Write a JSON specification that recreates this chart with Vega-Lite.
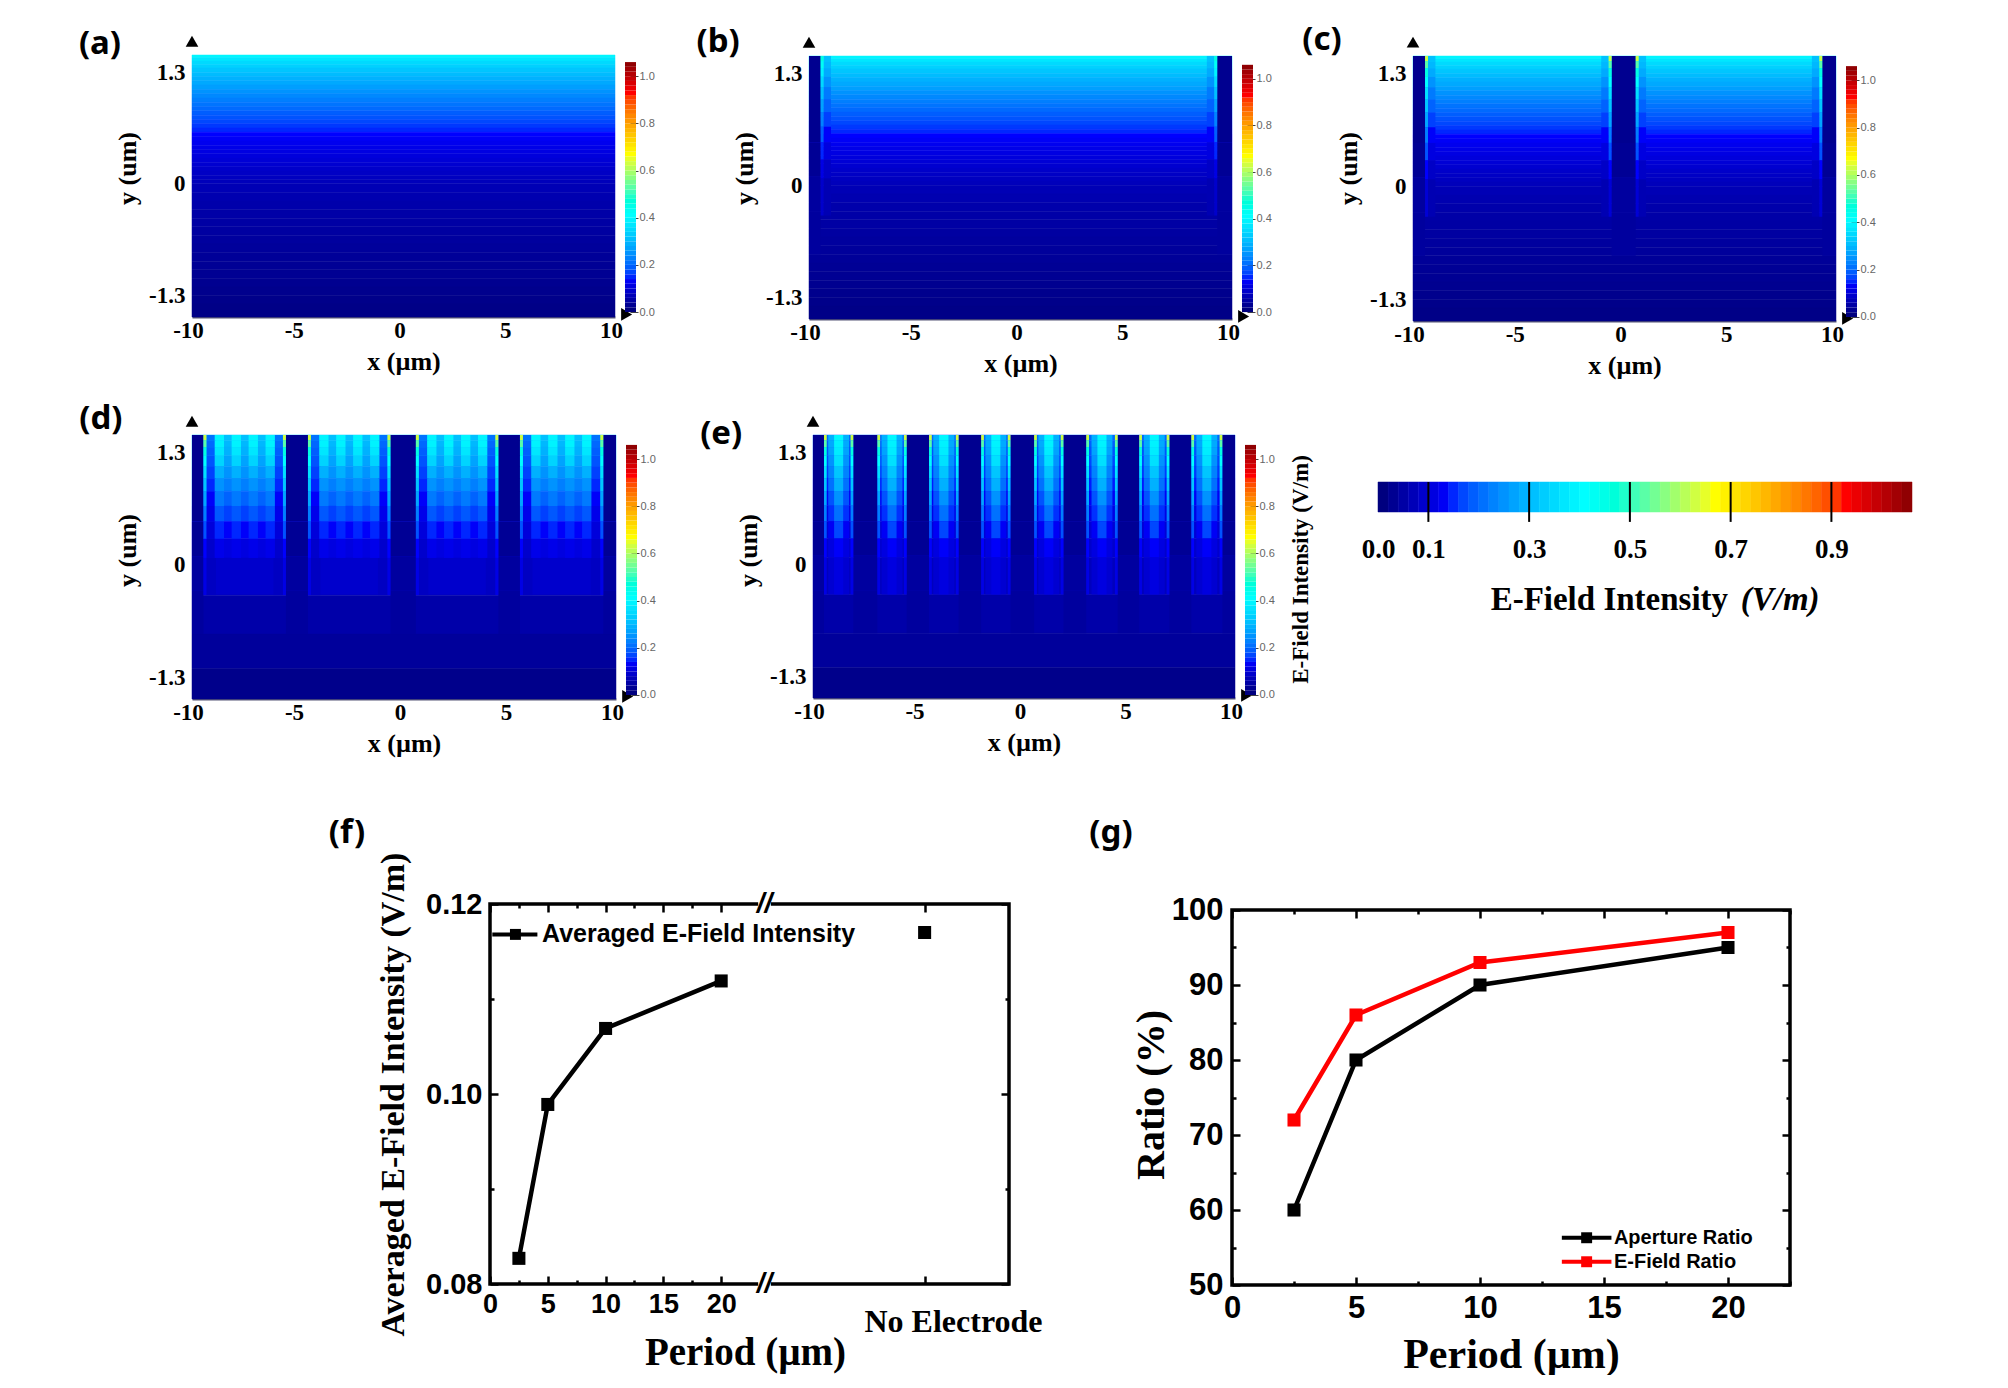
{"$schema":"https://vega.github.io/schema/vega-lite/v6.json",
"padding":{"left":78,"top":23,"right":0,"bottom":0},
"background":"white",
"config":{"view":{"stroke":null},"axis":{"grid":false,"labelFlush":false,"labelFont":"Liberation Serif","labelFontWeight":"bold","labelFontSize":23,"labelColor":"black","titleFont":"Liberation Serif","titleFontWeight":"bold","titleFontSize":26,"titleColor":"black"}},
"datasets":{
"base":[{"y":1.5,"y2":1.47,"v":0.385},{"y":1.47,"y2":1.43,"v":0.36},{"y":1.43,"y2":1.39,"v":0.34},{"y":1.39,"y2":1.35,"v":0.325},{"y":1.35,"y2":1.3,"v":0.31},{"y":1.3,"y2":1.25,"v":0.295},{"y":1.25,"y2":1.2,"v":0.28},{"y":1.2,"y2":1.15,"v":0.268},{"y":1.15,"y2":1.1,"v":0.255},{"y":1.1,"y2":1.05,"v":0.24},{"y":1.05,"y2":1,"v":0.228},{"y":1,"y2":0.95,"v":0.215},{"y":0.95,"y2":0.9,"v":0.203},{"y":0.9,"y2":0.85,"v":0.192},{"y":0.85,"y2":0.8,"v":0.18},{"y":0.8,"y2":0.75,"v":0.17},{"y":0.75,"y2":0.7,"v":0.16},{"y":0.7,"y2":0.65,"v":0.15},{"y":0.65,"y2":0.6,"v":0.14},{"y":0.6,"y2":0.55,"v":0.13},{"y":0.55,"y2":0.5,"v":0.122},{"y":0.5,"y2":0.45,"v":0.115},{"y":0.45,"y2":0.4,"v":0.108},{"y":0.4,"y2":0.35,"v":0.102},{"y":0.35,"y2":0.3,"v":0.096},{"y":0.3,"y2":0.25,"v":0.09},{"y":0.25,"y2":0.2,"v":0.084},{"y":0.2,"y2":0.15,"v":0.078},{"y":0.15,"y2":0.1,"v":0.073},{"y":0.1,"y2":0.05,"v":0.068},{"y":0.05,"y2":0,"v":0.063},{"y":0,"y2":-0.1,"v":0.057},{"y":-0.1,"y2":-0.2,"v":0.052},{"y":-0.2,"y2":-0.3,"v":0.047},{"y":-0.3,"y2":-0.4,"v":0.043},{"y":-0.4,"y2":-0.5,"v":0.039},{"y":-0.5,"y2":-0.6,"v":0.036},{"y":-0.6,"y2":-0.7,"v":0.033},{"y":-0.7,"y2":-0.8,"v":0.03},{"y":-0.8,"y2":-0.9,"v":0.027},{"y":-0.9,"y2":-1,"v":0.024},{"y":-1,"y2":-1.1,"v":0.021},{"y":-1.1,"y2":-1.2,"v":0.018},{"y":-1.2,"y2":-1.3,"v":0.015},{"y":-1.3,"y2":-1.4,"v":0.012},{"y":-1.4,"y2":-1.55,"v":0.009}],
"baseD":[{"y":1.5,"y2":1.44,"v":0.3},{"y":1.44,"y2":1.36,"v":0.29},{"y":1.36,"y2":1.26,"v":0.28},{"y":1.26,"y2":1.14,"v":0.26},{"y":1.14,"y2":1,"v":0.24},{"y":1,"y2":0.85,"v":0.215},{"y":0.85,"y2":0.68,"v":0.185},{"y":0.68,"y2":0.5,"v":0.155},{"y":0.5,"y2":0.3,"v":0.125},{"y":0.3,"y2":0.08,"v":0.1},{"y":0.08,"y2":-0.35,"v":0.08},{"y":-0.35,"y2":-0.8,"v":0.045},{"y":-0.8,"y2":-1.2,"v":0.03},{"y":-1.2,"y2":-1.55,"v":0.013}],
"baseE":[{"y":1.5,"y2":1.44,"v":0.19},{"y":1.44,"y2":1.36,"v":0.18},{"y":1.36,"y2":1.26,"v":0.17},{"y":1.26,"y2":1.14,"v":0.16},{"y":1.14,"y2":1,"v":0.15},{"y":1,"y2":0.85,"v":0.135},{"y":0.85,"y2":0.68,"v":0.12},{"y":0.68,"y2":0.5,"v":0.105},{"y":0.5,"y2":0.3,"v":0.09},{"y":0.3,"y2":0.08,"v":0.08},{"y":0.08,"y2":-0.35,"v":0.065},{"y":-0.35,"y2":-0.8,"v":0.045},{"y":-0.8,"y2":-1.2,"v":0.03},{"y":-1.2,"y2":-1.55,"v":0.013}],
"bands":[{"b":1,"y":1.5,"y2":1.44},{"b":2,"y":1.44,"y2":1.36},{"b":3,"y":1.36,"y2":1.26},{"b":4,"y":1.26,"y2":1.14},{"b":5,"y":1.14,"y2":1},{"b":6,"y":1,"y2":0.85},{"b":7,"y":0.85,"y2":0.68},{"b":8,"y":0.68,"y2":0.5},{"b":9,"y":0.5,"y2":0.3},{"b":10,"y":0.3,"y2":0.08},{"b":11,"y":0.08,"y2":-0.35},{"b":21,"y":1.5,"y2":0.5},{"b":22,"y":0.5,"y2":0.1},{"b":23,"y":0.1,"y2":-0.3},{"b":24,"y":-0.3,"y2":-0.8}],
"bar":[{"v":0,"v2":0.02},{"v":0.02,"v2":0.04},{"v":0.04,"v2":0.06},{"v":0.06,"v2":0.08},{"v":0.08,"v2":0.1},{"v":0.1,"v2":0.12},{"v":0.12,"v2":0.14},{"v":0.14,"v2":0.16},{"v":0.16,"v2":0.18},{"v":0.18,"v2":0.2},{"v":0.2,"v2":0.22},{"v":0.22,"v2":0.24},{"v":0.24,"v2":0.26},{"v":0.26,"v2":0.28},{"v":0.28,"v2":0.3},{"v":0.3,"v2":0.32},{"v":0.32,"v2":0.34},{"v":0.34,"v2":0.36},{"v":0.36,"v2":0.38},{"v":0.38,"v2":0.4},{"v":0.4,"v2":0.42},{"v":0.42,"v2":0.44},{"v":0.44,"v2":0.46},{"v":0.46,"v2":0.48},{"v":0.48,"v2":0.5},{"v":0.5,"v2":0.52},{"v":0.52,"v2":0.54},{"v":0.54,"v2":0.56},{"v":0.56,"v2":0.58},{"v":0.58,"v2":0.6},{"v":0.6,"v2":0.62},{"v":0.62,"v2":0.64},{"v":0.64,"v2":0.66},{"v":0.66,"v2":0.68},{"v":0.68,"v2":0.7},{"v":0.7,"v2":0.72},{"v":0.72,"v2":0.74},{"v":0.74,"v2":0.76},{"v":0.76,"v2":0.78},{"v":0.78,"v2":0.8},{"v":0.8,"v2":0.82},{"v":0.82,"v2":0.84},{"v":0.84,"v2":0.86},{"v":0.86,"v2":0.88},{"v":0.88,"v2":0.9},{"v":0.9,"v2":0.92},{"v":0.92,"v2":0.94},{"v":0.94,"v2":0.96},{"v":0.96,"v2":0.98},{"v":0.98,"v2":1},{"v":1,"v2":1.02},{"v":1.02,"v2":1.04},{"v":1.04,"v2":1.06}],
"arrows":[{"x":-10,"y":1.66,"s":"triangle-up"},{"x":10.55,"y":-1.52,"s":"triangle-right"}],
"colsB":[{"c":1,"x":-10,"x2":-9.45},{"c":2,"x":9.3,"x2":10},{"c":3,"x":-9.31,"x2":-8.96},{"c":4,"x":8.81,"x2":9.16},{"c":5,"x":-9.45,"x2":-9.31},{"c":6,"x":9.16,"x2":9.3}],
"cellsB":[{"c":1,"b":21,"v":0.018},{"c":1,"b":22,"v":0.024},{"c":1,"b":23,"v":0.034},{"c":1,"b":24,"v":0.033},{"c":2,"b":21,"v":0.018},{"c":2,"b":22,"v":0.024},{"c":2,"b":23,"v":0.034},{"c":2,"b":24,"v":0.033},
{"c":3,"b":1,"v":0.3},{"c":3,"b":2,"v":0.29},{"c":3,"b":3,"v":0.27},{"c":3,"b":4,"v":0.24},{"c":3,"b":5,"v":0.21},{"c":3,"b":6,"v":0.185},{"c":3,"b":7,"v":0.155},{"c":3,"b":8,"v":0.125},{"c":3,"b":9,"v":0.1},{"c":3,"b":10,"v":0.075},{"c":3,"b":11,"v":0.055},
{"c":4,"b":1,"v":0.3},{"c":4,"b":2,"v":0.29},{"c":4,"b":3,"v":0.27},{"c":4,"b":4,"v":0.24},{"c":4,"b":5,"v":0.21},{"c":4,"b":6,"v":0.185},{"c":4,"b":7,"v":0.155},{"c":4,"b":8,"v":0.125},{"c":4,"b":9,"v":0.1},{"c":4,"b":10,"v":0.075},{"c":4,"b":11,"v":0.055},
{"c":5,"b":1,"v":0.45},{"c":5,"b":2,"v":0.42},{"c":5,"b":3,"v":0.38},{"c":5,"b":4,"v":0.34},{"c":5,"b":5,"v":0.3},{"c":5,"b":6,"v":0.26},{"c":5,"b":7,"v":0.22},{"c":5,"b":8,"v":0.18},{"c":5,"b":9,"v":0.14},{"c":5,"b":10,"v":0.105},{"c":5,"b":11,"v":0.08},
{"c":6,"b":1,"v":0.45},{"c":6,"b":2,"v":0.42},{"c":6,"b":3,"v":0.38},{"c":6,"b":4,"v":0.34},{"c":6,"b":5,"v":0.3},{"c":6,"b":6,"v":0.26},{"c":6,"b":7,"v":0.22},{"c":6,"b":8,"v":0.18},{"c":6,"b":9,"v":0.14},{"c":6,"b":10,"v":0.105},{"c":6,"b":11,"v":0.08}],
"colsC":[{"c":1,"x":-10,"x2":-9.43},{"c":2,"x":-0.61,"x2":0.53},{"c":3,"x":9.35,"x2":10},{"c":4,"x":-9.29,"x2":-8.94},{"c":5,"x":-1.1,"x2":-0.75},{"c":6,"x":0.67,"x2":1.02},{"c":7,"x":8.86,"x2":9.21},{"c":8,"x":-9.43,"x2":-9.29},{"c":9,"x":-0.75,"x2":-0.61},{"c":10,"x":0.53,"x2":0.67},{"c":11,"x":9.21,"x2":9.35}],
"cellsC":[{"c":1,"b":21,"v":0.018},{"c":1,"b":22,"v":0.024},{"c":1,"b":23,"v":0.034},{"c":1,"b":24,"v":0.033},{"c":2,"b":21,"v":0.018},{"c":2,"b":22,"v":0.024},{"c":2,"b":23,"v":0.034},{"c":2,"b":24,"v":0.033},{"c":3,"b":21,"v":0.018},{"c":3,"b":22,"v":0.024},{"c":3,"b":23,"v":0.034},{"c":3,"b":24,"v":0.033},
{"c":4,"b":1,"v":0.3},{"c":4,"b":2,"v":0.29},{"c":4,"b":3,"v":0.27},{"c":4,"b":4,"v":0.24},{"c":4,"b":5,"v":0.21},{"c":4,"b":6,"v":0.185},{"c":4,"b":7,"v":0.155},{"c":4,"b":8,"v":0.125},{"c":4,"b":9,"v":0.1},{"c":4,"b":10,"v":0.075},{"c":4,"b":11,"v":0.055},
{"c":5,"b":1,"v":0.3},{"c":5,"b":2,"v":0.29},{"c":5,"b":3,"v":0.27},{"c":5,"b":4,"v":0.24},{"c":5,"b":5,"v":0.21},{"c":5,"b":6,"v":0.185},{"c":5,"b":7,"v":0.155},{"c":5,"b":8,"v":0.125},{"c":5,"b":9,"v":0.1},{"c":5,"b":10,"v":0.075},{"c":5,"b":11,"v":0.055},
{"c":6,"b":1,"v":0.3},{"c":6,"b":2,"v":0.29},{"c":6,"b":3,"v":0.27},{"c":6,"b":4,"v":0.24},{"c":6,"b":5,"v":0.21},{"c":6,"b":6,"v":0.185},{"c":6,"b":7,"v":0.155},{"c":6,"b":8,"v":0.125},{"c":6,"b":9,"v":0.1},{"c":6,"b":10,"v":0.075},{"c":6,"b":11,"v":0.055},
{"c":7,"b":1,"v":0.3},{"c":7,"b":2,"v":0.29},{"c":7,"b":3,"v":0.27},{"c":7,"b":4,"v":0.24},{"c":7,"b":5,"v":0.21},{"c":7,"b":6,"v":0.185},{"c":7,"b":7,"v":0.155},{"c":7,"b":8,"v":0.125},{"c":7,"b":9,"v":0.1},{"c":7,"b":10,"v":0.075},{"c":7,"b":11,"v":0.055},
{"c":8,"b":1,"v":0.62},{"c":8,"b":2,"v":0.52},{"c":8,"b":3,"v":0.45},{"c":8,"b":4,"v":0.4},{"c":8,"b":5,"v":0.35},{"c":8,"b":6,"v":0.31},{"c":8,"b":7,"v":0.265},{"c":8,"b":8,"v":0.215},{"c":8,"b":9,"v":0.17},{"c":8,"b":10,"v":0.13},{"c":8,"b":11,"v":0.09},
{"c":9,"b":1,"v":0.62},{"c":9,"b":2,"v":0.52},{"c":9,"b":3,"v":0.45},{"c":9,"b":4,"v":0.4},{"c":9,"b":5,"v":0.35},{"c":9,"b":6,"v":0.31},{"c":9,"b":7,"v":0.265},{"c":9,"b":8,"v":0.215},{"c":9,"b":9,"v":0.17},{"c":9,"b":10,"v":0.13},{"c":9,"b":11,"v":0.09},
{"c":10,"b":1,"v":0.62},{"c":10,"b":2,"v":0.52},{"c":10,"b":3,"v":0.45},{"c":10,"b":4,"v":0.4},{"c":10,"b":5,"v":0.35},{"c":10,"b":6,"v":0.31},{"c":10,"b":7,"v":0.265},{"c":10,"b":8,"v":0.215},{"c":10,"b":9,"v":0.17},{"c":10,"b":10,"v":0.13},{"c":10,"b":11,"v":0.09},
{"c":11,"b":1,"v":0.62},{"c":11,"b":2,"v":0.52},{"c":11,"b":3,"v":0.45},{"c":11,"b":4,"v":0.4},{"c":11,"b":5,"v":0.35},{"c":11,"b":6,"v":0.31},{"c":11,"b":7,"v":0.265},{"c":11,"b":8,"v":0.215},{"c":11,"b":9,"v":0.17},{"c":11,"b":10,"v":0.13},{"c":11,"b":11,"v":0.09}],
"colsD":[{"c":1,"x":-10,"x2":-9.46},{"c":2,"x":-5.57,"x2":-4.53},{"c":3,"x":-0.64,"x2":0.56},{"c":4,"x":4.45,"x2":5.47},{"c":5,"x":9.4,"x2":10},{"c":6,"x":-9.32,"x2":-8.87},{"c":7,"x":-6.16,"x2":-5.71},{"c":8,"x":-4.39,"x2":-3.94},{"c":9,"x":-1.23,"x2":-0.78},{"c":10,"x":0.7,"x2":1.15},{"c":11,"x":3.86,"x2":4.31},{"c":12,"x":5.61,"x2":6.06},{"c":13,"x":8.81,"x2":9.26},{"c":14,"x":-8.93,"x2":-8.49},{"c":15,"x":-8.13,"x2":-7.69},{"c":16,"x":-7.33,"x2":-6.89},{"c":17,"x":-6.53,"x2":-6.09},{"c":18,"x":-4,"x2":-3.56},{"c":19,"x":-3.2,"x2":-2.76},{"c":20,"x":-2.4,"x2":-1.96},{"c":21,"x":-1.6,"x2":-1.16},{"c":22,"x":1.09,"x2":1.53},{"c":23,"x":1.89,"x2":2.33},{"c":24,"x":2.69,"x2":3.13},{"c":25,"x":3.49,"x2":3.93},{"c":26,"x":6,"x2":6.44},{"c":27,"x":6.8,"x2":7.24},{"c":28,"x":7.6,"x2":8.04},{"c":29,"x":8.4,"x2":8.84},{"c":30,"x":-9.46,"x2":-9.32},{"c":31,"x":-5.71,"x2":-5.57},{"c":32,"x":-4.53,"x2":-4.39},{"c":33,"x":-0.78,"x2":-0.64},{"c":34,"x":0.56,"x2":0.7},{"c":35,"x":4.31,"x2":4.45},{"c":36,"x":5.47,"x2":5.61},{"c":37,"x":9.26,"x2":9.4}],
"cellsD":[{"c":1,"b":21,"v":0.018},{"c":1,"b":22,"v":0.024},{"c":1,"b":23,"v":0.034},{"c":1,"b":24,"v":0.033},{"c":2,"b":21,"v":0.018},{"c":2,"b":22,"v":0.024},{"c":2,"b":23,"v":0.034},{"c":2,"b":24,"v":0.033},{"c":3,"b":21,"v":0.018},{"c":3,"b":22,"v":0.024},{"c":3,"b":23,"v":0.034},{"c":3,"b":24,"v":0.033},{"c":4,"b":21,"v":0.018},{"c":4,"b":22,"v":0.024},{"c":4,"b":23,"v":0.034},{"c":4,"b":24,"v":0.033},{"c":5,"b":21,"v":0.018},{"c":5,"b":22,"v":0.024},{"c":5,"b":23,"v":0.034},{"c":5,"b":24,"v":0.033},
{"c":6,"b":1,"v":0.2},{"c":6,"b":2,"v":0.19},{"c":6,"b":3,"v":0.18},{"c":6,"b":4,"v":0.17},{"c":6,"b":5,"v":0.155},{"c":6,"b":6,"v":0.14},{"c":6,"b":7,"v":0.125},{"c":6,"b":8,"v":0.11},{"c":6,"b":9,"v":0.095},{"c":6,"b":10,"v":0.08},{"c":6,"b":11,"v":0.07},
{"c":7,"b":1,"v":0.2},{"c":7,"b":2,"v":0.19},{"c":7,"b":3,"v":0.18},{"c":7,"b":4,"v":0.17},{"c":7,"b":5,"v":0.155},{"c":7,"b":6,"v":0.14},{"c":7,"b":7,"v":0.125},{"c":7,"b":8,"v":0.11},{"c":7,"b":9,"v":0.095},{"c":7,"b":10,"v":0.08},{"c":7,"b":11,"v":0.07},
{"c":8,"b":1,"v":0.2},{"c":8,"b":2,"v":0.19},{"c":8,"b":3,"v":0.18},{"c":8,"b":4,"v":0.17},{"c":8,"b":5,"v":0.155},{"c":8,"b":6,"v":0.14},{"c":8,"b":7,"v":0.125},{"c":8,"b":8,"v":0.11},{"c":8,"b":9,"v":0.095},{"c":8,"b":10,"v":0.08},{"c":8,"b":11,"v":0.07},
{"c":9,"b":1,"v":0.2},{"c":9,"b":2,"v":0.19},{"c":9,"b":3,"v":0.18},{"c":9,"b":4,"v":0.17},{"c":9,"b":5,"v":0.155},{"c":9,"b":6,"v":0.14},{"c":9,"b":7,"v":0.125},{"c":9,"b":8,"v":0.11},{"c":9,"b":9,"v":0.095},{"c":9,"b":10,"v":0.08},{"c":9,"b":11,"v":0.07},
{"c":10,"b":1,"v":0.2},{"c":10,"b":2,"v":0.19},{"c":10,"b":3,"v":0.18},{"c":10,"b":4,"v":0.17},{"c":10,"b":5,"v":0.155},{"c":10,"b":6,"v":0.14},{"c":10,"b":7,"v":0.125},{"c":10,"b":8,"v":0.11},{"c":10,"b":9,"v":0.095},{"c":10,"b":10,"v":0.08},{"c":10,"b":11,"v":0.07},
{"c":11,"b":1,"v":0.2},{"c":11,"b":2,"v":0.19},{"c":11,"b":3,"v":0.18},{"c":11,"b":4,"v":0.17},{"c":11,"b":5,"v":0.155},{"c":11,"b":6,"v":0.14},{"c":11,"b":7,"v":0.125},{"c":11,"b":8,"v":0.11},{"c":11,"b":9,"v":0.095},{"c":11,"b":10,"v":0.08},{"c":11,"b":11,"v":0.07},
{"c":12,"b":1,"v":0.2},{"c":12,"b":2,"v":0.19},{"c":12,"b":3,"v":0.18},{"c":12,"b":4,"v":0.17},{"c":12,"b":5,"v":0.155},{"c":12,"b":6,"v":0.14},{"c":12,"b":7,"v":0.125},{"c":12,"b":8,"v":0.11},{"c":12,"b":9,"v":0.095},{"c":12,"b":10,"v":0.08},{"c":12,"b":11,"v":0.07},
{"c":13,"b":1,"v":0.2},{"c":13,"b":2,"v":0.19},{"c":13,"b":3,"v":0.18},{"c":13,"b":4,"v":0.17},{"c":13,"b":5,"v":0.155},{"c":13,"b":6,"v":0.14},{"c":13,"b":7,"v":0.125},{"c":13,"b":8,"v":0.11},{"c":13,"b":9,"v":0.095},{"c":13,"b":10,"v":0.08},{"c":13,"b":11,"v":0.07},
{"c":14,"b":1,"v":0.385},{"c":14,"b":2,"v":0.38},{"c":14,"b":3,"v":0.36},{"c":14,"b":4,"v":0.33},{"c":14,"b":5,"v":0.28},{"c":14,"b":6,"v":0.24},{"c":14,"b":7,"v":0.21},{"c":14,"b":8,"v":0.175},{"c":14,"b":9,"v":0.14},{"c":14,"b":10,"v":0.11},
{"c":15,"b":1,"v":0.385},{"c":15,"b":2,"v":0.38},{"c":15,"b":3,"v":0.36},{"c":15,"b":4,"v":0.33},{"c":15,"b":5,"v":0.28},{"c":15,"b":6,"v":0.24},{"c":15,"b":7,"v":0.21},{"c":15,"b":8,"v":0.175},{"c":15,"b":9,"v":0.14},{"c":15,"b":10,"v":0.11},
{"c":16,"b":1,"v":0.385},{"c":16,"b":2,"v":0.38},{"c":16,"b":3,"v":0.36},{"c":16,"b":4,"v":0.33},{"c":16,"b":5,"v":0.28},{"c":16,"b":6,"v":0.24},{"c":16,"b":7,"v":0.21},{"c":16,"b":8,"v":0.175},{"c":16,"b":9,"v":0.14},{"c":16,"b":10,"v":0.11},
{"c":17,"b":1,"v":0.385},{"c":17,"b":2,"v":0.38},{"c":17,"b":3,"v":0.36},{"c":17,"b":4,"v":0.33},{"c":17,"b":5,"v":0.28},{"c":17,"b":6,"v":0.24},{"c":17,"b":7,"v":0.21},{"c":17,"b":8,"v":0.175},{"c":17,"b":9,"v":0.14},{"c":17,"b":10,"v":0.11},
{"c":18,"b":1,"v":0.385},{"c":18,"b":2,"v":0.38},{"c":18,"b":3,"v":0.36},{"c":18,"b":4,"v":0.33},{"c":18,"b":5,"v":0.28},{"c":18,"b":6,"v":0.24},{"c":18,"b":7,"v":0.21},{"c":18,"b":8,"v":0.175},{"c":18,"b":9,"v":0.14},{"c":18,"b":10,"v":0.11},
{"c":19,"b":1,"v":0.385},{"c":19,"b":2,"v":0.38},{"c":19,"b":3,"v":0.36},{"c":19,"b":4,"v":0.33},{"c":19,"b":5,"v":0.28},{"c":19,"b":6,"v":0.24},{"c":19,"b":7,"v":0.21},{"c":19,"b":8,"v":0.175},{"c":19,"b":9,"v":0.14},{"c":19,"b":10,"v":0.11},
{"c":20,"b":1,"v":0.385},{"c":20,"b":2,"v":0.38},{"c":20,"b":3,"v":0.36},{"c":20,"b":4,"v":0.33},{"c":20,"b":5,"v":0.28},{"c":20,"b":6,"v":0.24},{"c":20,"b":7,"v":0.21},{"c":20,"b":8,"v":0.175},{"c":20,"b":9,"v":0.14},{"c":20,"b":10,"v":0.11},
{"c":21,"b":1,"v":0.385},{"c":21,"b":2,"v":0.38},{"c":21,"b":3,"v":0.36},{"c":21,"b":4,"v":0.33},{"c":21,"b":5,"v":0.28},{"c":21,"b":6,"v":0.24},{"c":21,"b":7,"v":0.21},{"c":21,"b":8,"v":0.175},{"c":21,"b":9,"v":0.14},{"c":21,"b":10,"v":0.11},
{"c":22,"b":1,"v":0.385},{"c":22,"b":2,"v":0.38},{"c":22,"b":3,"v":0.36},{"c":22,"b":4,"v":0.33},{"c":22,"b":5,"v":0.28},{"c":22,"b":6,"v":0.24},{"c":22,"b":7,"v":0.21},{"c":22,"b":8,"v":0.175},{"c":22,"b":9,"v":0.14},{"c":22,"b":10,"v":0.11},
{"c":23,"b":1,"v":0.385},{"c":23,"b":2,"v":0.38},{"c":23,"b":3,"v":0.36},{"c":23,"b":4,"v":0.33},{"c":23,"b":5,"v":0.28},{"c":23,"b":6,"v":0.24},{"c":23,"b":7,"v":0.21},{"c":23,"b":8,"v":0.175},{"c":23,"b":9,"v":0.14},{"c":23,"b":10,"v":0.11},
{"c":24,"b":1,"v":0.385},{"c":24,"b":2,"v":0.38},{"c":24,"b":3,"v":0.36},{"c":24,"b":4,"v":0.33},{"c":24,"b":5,"v":0.28},{"c":24,"b":6,"v":0.24},{"c":24,"b":7,"v":0.21},{"c":24,"b":8,"v":0.175},{"c":24,"b":9,"v":0.14},{"c":24,"b":10,"v":0.11},
{"c":25,"b":1,"v":0.385},{"c":25,"b":2,"v":0.38},{"c":25,"b":3,"v":0.36},{"c":25,"b":4,"v":0.33},{"c":25,"b":5,"v":0.28},{"c":25,"b":6,"v":0.24},{"c":25,"b":7,"v":0.21},{"c":25,"b":8,"v":0.175},{"c":25,"b":9,"v":0.14},{"c":25,"b":10,"v":0.11},
{"c":26,"b":1,"v":0.385},{"c":26,"b":2,"v":0.38},{"c":26,"b":3,"v":0.36},{"c":26,"b":4,"v":0.33},{"c":26,"b":5,"v":0.28},{"c":26,"b":6,"v":0.24},{"c":26,"b":7,"v":0.21},{"c":26,"b":8,"v":0.175},{"c":26,"b":9,"v":0.14},{"c":26,"b":10,"v":0.11},
{"c":27,"b":1,"v":0.385},{"c":27,"b":2,"v":0.38},{"c":27,"b":3,"v":0.36},{"c":27,"b":4,"v":0.33},{"c":27,"b":5,"v":0.28},{"c":27,"b":6,"v":0.24},{"c":27,"b":7,"v":0.21},{"c":27,"b":8,"v":0.175},{"c":27,"b":9,"v":0.14},{"c":27,"b":10,"v":0.11},
{"c":28,"b":1,"v":0.385},{"c":28,"b":2,"v":0.38},{"c":28,"b":3,"v":0.36},{"c":28,"b":4,"v":0.33},{"c":28,"b":5,"v":0.28},{"c":28,"b":6,"v":0.24},{"c":28,"b":7,"v":0.21},{"c":28,"b":8,"v":0.175},{"c":28,"b":9,"v":0.14},{"c":28,"b":10,"v":0.11},
{"c":29,"b":1,"v":0.385},{"c":29,"b":2,"v":0.38},{"c":29,"b":3,"v":0.36},{"c":29,"b":4,"v":0.33},{"c":29,"b":5,"v":0.28},{"c":29,"b":6,"v":0.24},{"c":29,"b":7,"v":0.21},{"c":29,"b":8,"v":0.175},{"c":29,"b":9,"v":0.14},{"c":29,"b":10,"v":0.11},
{"c":30,"b":1,"v":0.62},{"c":30,"b":2,"v":0.52},{"c":30,"b":3,"v":0.45},{"c":30,"b":4,"v":0.4},{"c":30,"b":5,"v":0.35},{"c":30,"b":6,"v":0.31},{"c":30,"b":7,"v":0.265},{"c":30,"b":8,"v":0.215},{"c":30,"b":9,"v":0.17},{"c":30,"b":10,"v":0.13},{"c":30,"b":11,"v":0.105},
{"c":31,"b":1,"v":0.62},{"c":31,"b":2,"v":0.52},{"c":31,"b":3,"v":0.45},{"c":31,"b":4,"v":0.4},{"c":31,"b":5,"v":0.35},{"c":31,"b":6,"v":0.31},{"c":31,"b":7,"v":0.265},{"c":31,"b":8,"v":0.215},{"c":31,"b":9,"v":0.17},{"c":31,"b":10,"v":0.13},{"c":31,"b":11,"v":0.105},
{"c":32,"b":1,"v":0.62},{"c":32,"b":2,"v":0.52},{"c":32,"b":3,"v":0.45},{"c":32,"b":4,"v":0.4},{"c":32,"b":5,"v":0.35},{"c":32,"b":6,"v":0.31},{"c":32,"b":7,"v":0.265},{"c":32,"b":8,"v":0.215},{"c":32,"b":9,"v":0.17},{"c":32,"b":10,"v":0.13},{"c":32,"b":11,"v":0.105},
{"c":33,"b":1,"v":0.62},{"c":33,"b":2,"v":0.52},{"c":33,"b":3,"v":0.45},{"c":33,"b":4,"v":0.4},{"c":33,"b":5,"v":0.35},{"c":33,"b":6,"v":0.31},{"c":33,"b":7,"v":0.265},{"c":33,"b":8,"v":0.215},{"c":33,"b":9,"v":0.17},{"c":33,"b":10,"v":0.13},{"c":33,"b":11,"v":0.105},
{"c":34,"b":1,"v":0.62},{"c":34,"b":2,"v":0.52},{"c":34,"b":3,"v":0.45},{"c":34,"b":4,"v":0.4},{"c":34,"b":5,"v":0.35},{"c":34,"b":6,"v":0.31},{"c":34,"b":7,"v":0.265},{"c":34,"b":8,"v":0.215},{"c":34,"b":9,"v":0.17},{"c":34,"b":10,"v":0.13},{"c":34,"b":11,"v":0.105},
{"c":35,"b":1,"v":0.62},{"c":35,"b":2,"v":0.52},{"c":35,"b":3,"v":0.45},{"c":35,"b":4,"v":0.4},{"c":35,"b":5,"v":0.35},{"c":35,"b":6,"v":0.31},{"c":35,"b":7,"v":0.265},{"c":35,"b":8,"v":0.215},{"c":35,"b":9,"v":0.17},{"c":35,"b":10,"v":0.13},{"c":35,"b":11,"v":0.105},
{"c":36,"b":1,"v":0.62},{"c":36,"b":2,"v":0.52},{"c":36,"b":3,"v":0.45},{"c":36,"b":4,"v":0.4},{"c":36,"b":5,"v":0.35},{"c":36,"b":6,"v":0.31},{"c":36,"b":7,"v":0.265},{"c":36,"b":8,"v":0.215},{"c":36,"b":9,"v":0.17},{"c":36,"b":10,"v":0.13},{"c":36,"b":11,"v":0.105},
{"c":37,"b":1,"v":0.62},{"c":37,"b":2,"v":0.52},{"c":37,"b":3,"v":0.45},{"c":37,"b":4,"v":0.4},{"c":37,"b":5,"v":0.35},{"c":37,"b":6,"v":0.31},{"c":37,"b":7,"v":0.265},{"c":37,"b":8,"v":0.215},{"c":37,"b":9,"v":0.17},{"c":37,"b":10,"v":0.13},{"c":37,"b":11,"v":0.105}],
"colsE":[{"c":1,"x":-10,"x2":-9.48},{"c":2,"x":-8.09,"x2":-6.95},{"c":3,"x":-5.56,"x2":-4.5},{"c":4,"x":-3.1,"x2":-2.03},{"c":5,"x":-0.64,"x2":0.48},{"c":6,"x":1.87,"x2":2.95},{"c":7,"x":4.44,"x2":5.46},{"c":8,"x":6.89,"x2":7.93},{"c":9,"x":9.4,"x2":10},{"c":10,"x":-9.28,"x2":-8.29},{"c":11,"x":-6.75,"x2":-5.76},{"c":12,"x":-4.3,"x2":-3.3},{"c":13,"x":-1.83,"x2":-0.84},{"c":14,"x":0.68,"x2":1.67},{"c":15,"x":3.2,"x2":4.19},{"c":16,"x":5.68,"x2":6.67},{"c":17,"x":8.17,"x2":9.16},{"c":18,"x":-9,"x2":-8.57},{"c":19,"x":-6.47,"x2":-6.04},{"c":20,"x":-4.02,"x2":-3.58},{"c":21,"x":-1.55,"x2":-1.12},{"c":22,"x":0.96,"x2":1.39},{"c":23,"x":3.48,"x2":3.91},{"c":24,"x":5.96,"x2":6.39},{"c":25,"x":8.45,"x2":8.88},{"c":26,"x":-9.48,"x2":-9.35},{"c":27,"x":-8.22,"x2":-8.09},{"c":28,"x":-6.95,"x2":-6.82},{"c":29,"x":-5.69,"x2":-5.56},{"c":30,"x":-4.5,"x2":-4.37},{"c":31,"x":-3.23,"x2":-3.1},{"c":32,"x":-2.03,"x2":-1.9},{"c":33,"x":-0.77,"x2":-0.64},{"c":34,"x":0.48,"x2":0.61},{"c":35,"x":1.74,"x2":1.87},{"c":36,"x":2.95,"x2":3.08},{"c":37,"x":4.31,"x2":4.44},{"c":38,"x":5.46,"x2":5.59},{"c":39,"x":6.76,"x2":6.89},{"c":40,"x":7.93,"x2":8.06},{"c":41,"x":9.27,"x2":9.4}],
"cellsE":[{"c":1,"b":21,"v":0.018},{"c":1,"b":22,"v":0.024},{"c":1,"b":23,"v":0.034},{"c":1,"b":24,"v":0.033},{"c":2,"b":21,"v":0.018},{"c":2,"b":22,"v":0.024},{"c":2,"b":23,"v":0.034},{"c":2,"b":24,"v":0.033},{"c":3,"b":21,"v":0.018},{"c":3,"b":22,"v":0.024},{"c":3,"b":23,"v":0.034},{"c":3,"b":24,"v":0.033},{"c":4,"b":21,"v":0.018},{"c":4,"b":22,"v":0.024},{"c":4,"b":23,"v":0.034},{"c":4,"b":24,"v":0.033},{"c":5,"b":21,"v":0.018},{"c":5,"b":22,"v":0.024},{"c":5,"b":23,"v":0.034},{"c":5,"b":24,"v":0.033},{"c":6,"b":21,"v":0.018},{"c":6,"b":22,"v":0.024},{"c":6,"b":23,"v":0.034},{"c":6,"b":24,"v":0.033},{"c":7,"b":21,"v":0.018},{"c":7,"b":22,"v":0.024},{"c":7,"b":23,"v":0.034},{"c":7,"b":24,"v":0.033},{"c":8,"b":21,"v":0.018},{"c":8,"b":22,"v":0.024},{"c":8,"b":23,"v":0.034},{"c":8,"b":24,"v":0.033},{"c":9,"b":21,"v":0.018},{"c":9,"b":22,"v":0.024},{"c":9,"b":23,"v":0.034},{"c":9,"b":24,"v":0.033},
{"c":10,"b":1,"v":0.28},{"c":10,"b":2,"v":0.27},{"c":10,"b":3,"v":0.26},{"c":10,"b":4,"v":0.24},{"c":10,"b":5,"v":0.22},{"c":10,"b":6,"v":0.2},{"c":10,"b":7,"v":0.17},{"c":10,"b":8,"v":0.145},{"c":10,"b":9,"v":0.12},{"c":10,"b":10,"v":0.1},{"c":10,"b":11,"v":0.085},
{"c":11,"b":1,"v":0.28},{"c":11,"b":2,"v":0.27},{"c":11,"b":3,"v":0.26},{"c":11,"b":4,"v":0.24},{"c":11,"b":5,"v":0.22},{"c":11,"b":6,"v":0.2},{"c":11,"b":7,"v":0.17},{"c":11,"b":8,"v":0.145},{"c":11,"b":9,"v":0.12},{"c":11,"b":10,"v":0.1},{"c":11,"b":11,"v":0.085},
{"c":12,"b":1,"v":0.28},{"c":12,"b":2,"v":0.27},{"c":12,"b":3,"v":0.26},{"c":12,"b":4,"v":0.24},{"c":12,"b":5,"v":0.22},{"c":12,"b":6,"v":0.2},{"c":12,"b":7,"v":0.17},{"c":12,"b":8,"v":0.145},{"c":12,"b":9,"v":0.12},{"c":12,"b":10,"v":0.1},{"c":12,"b":11,"v":0.085},
{"c":13,"b":1,"v":0.28},{"c":13,"b":2,"v":0.27},{"c":13,"b":3,"v":0.26},{"c":13,"b":4,"v":0.24},{"c":13,"b":5,"v":0.22},{"c":13,"b":6,"v":0.2},{"c":13,"b":7,"v":0.17},{"c":13,"b":8,"v":0.145},{"c":13,"b":9,"v":0.12},{"c":13,"b":10,"v":0.1},{"c":13,"b":11,"v":0.085},
{"c":14,"b":1,"v":0.28},{"c":14,"b":2,"v":0.27},{"c":14,"b":3,"v":0.26},{"c":14,"b":4,"v":0.24},{"c":14,"b":5,"v":0.22},{"c":14,"b":6,"v":0.2},{"c":14,"b":7,"v":0.17},{"c":14,"b":8,"v":0.145},{"c":14,"b":9,"v":0.12},{"c":14,"b":10,"v":0.1},{"c":14,"b":11,"v":0.085},
{"c":15,"b":1,"v":0.28},{"c":15,"b":2,"v":0.27},{"c":15,"b":3,"v":0.26},{"c":15,"b":4,"v":0.24},{"c":15,"b":5,"v":0.22},{"c":15,"b":6,"v":0.2},{"c":15,"b":7,"v":0.17},{"c":15,"b":8,"v":0.145},{"c":15,"b":9,"v":0.12},{"c":15,"b":10,"v":0.1},{"c":15,"b":11,"v":0.085},
{"c":16,"b":1,"v":0.28},{"c":16,"b":2,"v":0.27},{"c":16,"b":3,"v":0.26},{"c":16,"b":4,"v":0.24},{"c":16,"b":5,"v":0.22},{"c":16,"b":6,"v":0.2},{"c":16,"b":7,"v":0.17},{"c":16,"b":8,"v":0.145},{"c":16,"b":9,"v":0.12},{"c":16,"b":10,"v":0.1},{"c":16,"b":11,"v":0.085},
{"c":17,"b":1,"v":0.28},{"c":17,"b":2,"v":0.27},{"c":17,"b":3,"v":0.26},{"c":17,"b":4,"v":0.24},{"c":17,"b":5,"v":0.22},{"c":17,"b":6,"v":0.2},{"c":17,"b":7,"v":0.17},{"c":17,"b":8,"v":0.145},{"c":17,"b":9,"v":0.12},{"c":17,"b":10,"v":0.1},{"c":17,"b":11,"v":0.085},
{"c":18,"b":1,"v":0.39},{"c":18,"b":2,"v":0.38},{"c":18,"b":3,"v":0.37},{"c":18,"b":4,"v":0.35},{"c":18,"b":5,"v":0.31},{"c":18,"b":6,"v":0.28},{"c":18,"b":7,"v":0.24},{"c":18,"b":8,"v":0.2},{"c":18,"b":9,"v":0.16},{"c":18,"b":10,"v":0.125},{"c":18,"b":11,"v":0.1},
{"c":19,"b":1,"v":0.39},{"c":19,"b":2,"v":0.38},{"c":19,"b":3,"v":0.37},{"c":19,"b":4,"v":0.35},{"c":19,"b":5,"v":0.31},{"c":19,"b":6,"v":0.28},{"c":19,"b":7,"v":0.24},{"c":19,"b":8,"v":0.2},{"c":19,"b":9,"v":0.16},{"c":19,"b":10,"v":0.125},{"c":19,"b":11,"v":0.1},
{"c":20,"b":1,"v":0.39},{"c":20,"b":2,"v":0.38},{"c":20,"b":3,"v":0.37},{"c":20,"b":4,"v":0.35},{"c":20,"b":5,"v":0.31},{"c":20,"b":6,"v":0.28},{"c":20,"b":7,"v":0.24},{"c":20,"b":8,"v":0.2},{"c":20,"b":9,"v":0.16},{"c":20,"b":10,"v":0.125},{"c":20,"b":11,"v":0.1},
{"c":21,"b":1,"v":0.39},{"c":21,"b":2,"v":0.38},{"c":21,"b":3,"v":0.37},{"c":21,"b":4,"v":0.35},{"c":21,"b":5,"v":0.31},{"c":21,"b":6,"v":0.28},{"c":21,"b":7,"v":0.24},{"c":21,"b":8,"v":0.2},{"c":21,"b":9,"v":0.16},{"c":21,"b":10,"v":0.125},{"c":21,"b":11,"v":0.1},
{"c":22,"b":1,"v":0.39},{"c":22,"b":2,"v":0.38},{"c":22,"b":3,"v":0.37},{"c":22,"b":4,"v":0.35},{"c":22,"b":5,"v":0.31},{"c":22,"b":6,"v":0.28},{"c":22,"b":7,"v":0.24},{"c":22,"b":8,"v":0.2},{"c":22,"b":9,"v":0.16},{"c":22,"b":10,"v":0.125},{"c":22,"b":11,"v":0.1},
{"c":23,"b":1,"v":0.39},{"c":23,"b":2,"v":0.38},{"c":23,"b":3,"v":0.37},{"c":23,"b":4,"v":0.35},{"c":23,"b":5,"v":0.31},{"c":23,"b":6,"v":0.28},{"c":23,"b":7,"v":0.24},{"c":23,"b":8,"v":0.2},{"c":23,"b":9,"v":0.16},{"c":23,"b":10,"v":0.125},{"c":23,"b":11,"v":0.1},
{"c":24,"b":1,"v":0.39},{"c":24,"b":2,"v":0.38},{"c":24,"b":3,"v":0.37},{"c":24,"b":4,"v":0.35},{"c":24,"b":5,"v":0.31},{"c":24,"b":6,"v":0.28},{"c":24,"b":7,"v":0.24},{"c":24,"b":8,"v":0.2},{"c":24,"b":9,"v":0.16},{"c":24,"b":10,"v":0.125},{"c":24,"b":11,"v":0.1},
{"c":25,"b":1,"v":0.39},{"c":25,"b":2,"v":0.38},{"c":25,"b":3,"v":0.37},{"c":25,"b":4,"v":0.35},{"c":25,"b":5,"v":0.31},{"c":25,"b":6,"v":0.28},{"c":25,"b":7,"v":0.24},{"c":25,"b":8,"v":0.2},{"c":25,"b":9,"v":0.16},{"c":25,"b":10,"v":0.125},{"c":25,"b":11,"v":0.1},
{"c":26,"b":1,"v":0.62},{"c":26,"b":2,"v":0.52},{"c":26,"b":3,"v":0.45},{"c":26,"b":4,"v":0.4},{"c":26,"b":5,"v":0.35},{"c":26,"b":6,"v":0.31},{"c":26,"b":7,"v":0.265},{"c":26,"b":8,"v":0.215},{"c":26,"b":9,"v":0.17},{"c":26,"b":10,"v":0.13},{"c":26,"b":11,"v":0.105},
{"c":27,"b":1,"v":0.62},{"c":27,"b":2,"v":0.52},{"c":27,"b":3,"v":0.45},{"c":27,"b":4,"v":0.4},{"c":27,"b":5,"v":0.35},{"c":27,"b":6,"v":0.31},{"c":27,"b":7,"v":0.265},{"c":27,"b":8,"v":0.215},{"c":27,"b":9,"v":0.17},{"c":27,"b":10,"v":0.13},{"c":27,"b":11,"v":0.105},
{"c":28,"b":1,"v":0.62},{"c":28,"b":2,"v":0.52},{"c":28,"b":3,"v":0.45},{"c":28,"b":4,"v":0.4},{"c":28,"b":5,"v":0.35},{"c":28,"b":6,"v":0.31},{"c":28,"b":7,"v":0.265},{"c":28,"b":8,"v":0.215},{"c":28,"b":9,"v":0.17},{"c":28,"b":10,"v":0.13},{"c":28,"b":11,"v":0.105},
{"c":29,"b":1,"v":0.62},{"c":29,"b":2,"v":0.52},{"c":29,"b":3,"v":0.45},{"c":29,"b":4,"v":0.4},{"c":29,"b":5,"v":0.35},{"c":29,"b":6,"v":0.31},{"c":29,"b":7,"v":0.265},{"c":29,"b":8,"v":0.215},{"c":29,"b":9,"v":0.17},{"c":29,"b":10,"v":0.13},{"c":29,"b":11,"v":0.105},
{"c":30,"b":1,"v":0.62},{"c":30,"b":2,"v":0.52},{"c":30,"b":3,"v":0.45},{"c":30,"b":4,"v":0.4},{"c":30,"b":5,"v":0.35},{"c":30,"b":6,"v":0.31},{"c":30,"b":7,"v":0.265},{"c":30,"b":8,"v":0.215},{"c":30,"b":9,"v":0.17},{"c":30,"b":10,"v":0.13},{"c":30,"b":11,"v":0.105},
{"c":31,"b":1,"v":0.62},{"c":31,"b":2,"v":0.52},{"c":31,"b":3,"v":0.45},{"c":31,"b":4,"v":0.4},{"c":31,"b":5,"v":0.35},{"c":31,"b":6,"v":0.31},{"c":31,"b":7,"v":0.265},{"c":31,"b":8,"v":0.215},{"c":31,"b":9,"v":0.17},{"c":31,"b":10,"v":0.13},{"c":31,"b":11,"v":0.105},
{"c":32,"b":1,"v":0.62},{"c":32,"b":2,"v":0.52},{"c":32,"b":3,"v":0.45},{"c":32,"b":4,"v":0.4},{"c":32,"b":5,"v":0.35},{"c":32,"b":6,"v":0.31},{"c":32,"b":7,"v":0.265},{"c":32,"b":8,"v":0.215},{"c":32,"b":9,"v":0.17},{"c":32,"b":10,"v":0.13},{"c":32,"b":11,"v":0.105},
{"c":33,"b":1,"v":0.62},{"c":33,"b":2,"v":0.52},{"c":33,"b":3,"v":0.45},{"c":33,"b":4,"v":0.4},{"c":33,"b":5,"v":0.35},{"c":33,"b":6,"v":0.31},{"c":33,"b":7,"v":0.265},{"c":33,"b":8,"v":0.215},{"c":33,"b":9,"v":0.17},{"c":33,"b":10,"v":0.13},{"c":33,"b":11,"v":0.105},
{"c":34,"b":1,"v":0.62},{"c":34,"b":2,"v":0.52},{"c":34,"b":3,"v":0.45},{"c":34,"b":4,"v":0.4},{"c":34,"b":5,"v":0.35},{"c":34,"b":6,"v":0.31},{"c":34,"b":7,"v":0.265},{"c":34,"b":8,"v":0.215},{"c":34,"b":9,"v":0.17},{"c":34,"b":10,"v":0.13},{"c":34,"b":11,"v":0.105},
{"c":35,"b":1,"v":0.62},{"c":35,"b":2,"v":0.52},{"c":35,"b":3,"v":0.45},{"c":35,"b":4,"v":0.4},{"c":35,"b":5,"v":0.35},{"c":35,"b":6,"v":0.31},{"c":35,"b":7,"v":0.265},{"c":35,"b":8,"v":0.215},{"c":35,"b":9,"v":0.17},{"c":35,"b":10,"v":0.13},{"c":35,"b":11,"v":0.105},
{"c":36,"b":1,"v":0.62},{"c":36,"b":2,"v":0.52},{"c":36,"b":3,"v":0.45},{"c":36,"b":4,"v":0.4},{"c":36,"b":5,"v":0.35},{"c":36,"b":6,"v":0.31},{"c":36,"b":7,"v":0.265},{"c":36,"b":8,"v":0.215},{"c":36,"b":9,"v":0.17},{"c":36,"b":10,"v":0.13},{"c":36,"b":11,"v":0.105},
{"c":37,"b":1,"v":0.62},{"c":37,"b":2,"v":0.52},{"c":37,"b":3,"v":0.45},{"c":37,"b":4,"v":0.4},{"c":37,"b":5,"v":0.35},{"c":37,"b":6,"v":0.31},{"c":37,"b":7,"v":0.265},{"c":37,"b":8,"v":0.215},{"c":37,"b":9,"v":0.17},{"c":37,"b":10,"v":0.13},{"c":37,"b":11,"v":0.105},
{"c":38,"b":1,"v":0.62},{"c":38,"b":2,"v":0.52},{"c":38,"b":3,"v":0.45},{"c":38,"b":4,"v":0.4},{"c":38,"b":5,"v":0.35},{"c":38,"b":6,"v":0.31},{"c":38,"b":7,"v":0.265},{"c":38,"b":8,"v":0.215},{"c":38,"b":9,"v":0.17},{"c":38,"b":10,"v":0.13},{"c":38,"b":11,"v":0.105},
{"c":39,"b":1,"v":0.62},{"c":39,"b":2,"v":0.52},{"c":39,"b":3,"v":0.45},{"c":39,"b":4,"v":0.4},{"c":39,"b":5,"v":0.35},{"c":39,"b":6,"v":0.31},{"c":39,"b":7,"v":0.265},{"c":39,"b":8,"v":0.215},{"c":39,"b":9,"v":0.17},{"c":39,"b":10,"v":0.13},{"c":39,"b":11,"v":0.105},
{"c":40,"b":1,"v":0.62},{"c":40,"b":2,"v":0.52},{"c":40,"b":3,"v":0.45},{"c":40,"b":4,"v":0.4},{"c":40,"b":5,"v":0.35},{"c":40,"b":6,"v":0.31},{"c":40,"b":7,"v":0.265},{"c":40,"b":8,"v":0.215},{"c":40,"b":9,"v":0.17},{"c":40,"b":10,"v":0.13},{"c":40,"b":11,"v":0.105},
{"c":41,"b":1,"v":0.62},{"c":41,"b":2,"v":0.52},{"c":41,"b":3,"v":0.45},{"c":41,"b":4,"v":0.4},{"c":41,"b":5,"v":0.35},{"c":41,"b":6,"v":0.31},{"c":41,"b":7,"v":0.265},{"c":41,"b":8,"v":0.215},{"c":41,"b":9,"v":0.17},{"c":41,"b":10,"v":0.13},{"c":41,"b":11,"v":0.105}],
"f":[{"period":2.5,"field":0.0827},{"period":5,"field":0.0989},{"period":10,"field":0.1069},{"period":20,"field":0.1119}],
"g":[{"period":2.5,"ratio":60,"series":"Aperture Ratio"},{"period":5,"ratio":80,"series":"Aperture Ratio"},{"period":10,"ratio":90,"series":"Aperture Ratio"},{"period":20,"ratio":95,"series":"Aperture Ratio"},{"period":2.5,"ratio":72,"series":"E-Field Ratio"},{"period":5,"ratio":86,"series":"E-Field Ratio"},{"period":10,"ratio":93,"series":"E-Field Ratio"},{"period":20,"ratio":97,"series":"E-Field Ratio"}]
},
"spacing":24,
"vconcat":[
{"bounds":"flush","spacing":10,"hconcat":[
{"width":423,"height":262,"layer":[
{"data":{"name":"base"},"mark":{"type":"rect","strokeWidth":0.5},"encoding":{"x":{"datum":-10,"type":"quantitative","scale":{"domain":[-10,10]},"axis":{"values":[-10,-5,0,5,10],"labelExpr":"''+datum.value","labelOffset":-4,"title":"x (µm)","domainColor":"#555577","domainWidth":2,"ticks":false,"labelPadding":2,"titlePadding":6}},"x2":{"datum":10},"y":{"field":"y","type":"quantitative","scale":{"domain":[-1.55,1.5]},"axis":{"values":[-1.3,0,1.3],"labelExpr":"''+datum.value","title":"y (um)","domain":false,"ticks":false,"labelPadding":7,"titlePadding":8,"titleY":113}},"y2":{"field":"y2"},"color":{"field":"v","type":"quantitative","legend":null,"scale":{"domain":[0,0.13,0.4,0.66,0.92,1.06],"range":["#00007f","#0000ff","#00ffff","#ffff00","#ff0000","#7f0000"]}},"stroke":{"field":"v","type":"quantitative","legend":null,"scale":{"domain":[0,0.13,0.4,0.66,0.92,1.06],"range":["#00007f","#0000ff","#00ffff","#ffff00","#ff0000","#7f0000"]}}}},
{"data":{"name":"arrows"},"mark":{"type":"point","filled":true,"opacity":1,"size":160,"color":"black","clip":false},"encoding":{"x":{"field":"x","type":"quantitative","scale":{"domain":[-10,10]}},"y":{"field":"y","type":"quantitative","scale":{"domain":[-1.55,1.5]}},"shape":{"field":"s","type":"nominal","scale":null}}},
{"data":{"values":[{"x":-14.35,"y":1.63,"t":"(a)"}]},"mark":{"type":"text","font":"Noto Sans","fontWeight":"bold","fontSize":33},"encoding":{"x":{"field":"x","type":"quantitative","scale":{"domain":[-10,10]}},"y":{"field":"y","type":"quantitative","scale":{"domain":[-1.55,1.5]}},"text":{"field":"t"}}}
]},
{"width":11,"height":262,"data":{"name":"bar"},"mark":{"type":"rect","strokeWidth":0.5},"encoding":{"y":{"field":"v","type":"quantitative","scale":{"domain":[-0.021,1.09]},"axis":{"values":[0,0.2,0.4,0.6,0.8,1],"format":".1f","orient":"right","title":null,"domain":false,"tickColor":"#444444","tickSize":8,"offset":-6,"labelFont":"Liberation Sans","labelFontWeight":"normal","labelFontSize":11,"labelColor":"#666666","labelPadding":1}},"y2":{"field":"v2"},"color":{"field":"v","type":"quantitative","legend":null,"scale":{"domain":[0,0.13,0.4,0.66,0.92,1.06],"range":["#00007f","#0000ff","#00ffff","#ffff00","#ff0000","#7f0000"]}}}},
{"width":153,"height":1,"data":{"values":[]},"mark":"rect"},
{"width":423,"height":264,"layer":[
{"data":{"name":"base"},"mark":{"type":"rect","strokeWidth":0.5},"encoding":{"x":{"datum":-10,"type":"quantitative","scale":{"domain":[-10,10]},"axis":{"values":[-10,-5,0,5,10],"labelExpr":"''+datum.value","labelOffset":-4,"title":"x (µm)","domainColor":"#555577","domainWidth":2,"ticks":false,"labelPadding":2,"titlePadding":6}},"x2":{"datum":10},"y":{"field":"y","type":"quantitative","scale":{"domain":[-1.55,1.512]},"axis":{"values":[-1.3,0,1.3],"labelExpr":"''+datum.value","title":"y (um)","domain":false,"ticks":false,"labelPadding":7,"titlePadding":8,"titleY":113}},"y2":{"field":"y2"},"color":{"field":"v","type":"quantitative","legend":null,"scale":{"domain":[0,0.13,0.4,0.66,0.92,1.06],"range":["#00007f","#0000ff","#00ffff","#ffff00","#ff0000","#7f0000"]}},"stroke":{"field":"v","type":"quantitative","legend":null,"scale":{"domain":[0,0.13,0.4,0.66,0.92,1.06],"range":["#00007f","#0000ff","#00ffff","#ffff00","#ff0000","#7f0000"]}}}},
{"data":{"name":"cellsB"},"transform":[{"lookup":"c","from":{"data":{"name":"colsB"},"key":"c","fields":["x","x2"]}},{"lookup":"b","from":{"data":{"name":"bands"},"key":"b","fields":["y","y2"]}}],"mark":"rect","encoding":{"x":{"field":"x","type":"quantitative","scale":{"domain":[-10,10]}},"x2":{"field":"x2"},"y":{"field":"y","type":"quantitative","scale":{"domain":[-1.55,1.512]}},"y2":{"field":"y2"},"color":{"field":"v","type":"quantitative","legend":null,"scale":{"domain":[0,0.13,0.4,0.66,0.92,1.06],"range":["#00007f","#0000ff","#00ffff","#ffff00","#ff0000","#7f0000"]}}}},
{"data":{"name":"arrows"},"mark":{"type":"point","filled":true,"opacity":1,"size":160,"color":"black","clip":false},"encoding":{"x":{"field":"x","type":"quantitative","scale":{"domain":[-10,10]}},"y":{"field":"y","type":"quantitative","scale":{"domain":[-1.55,1.512]}},"shape":{"field":"s","type":"nominal","scale":null}}},
{"data":{"values":[{"x":-14.3,"y":1.66,"t":"(b)"}]},"mark":{"type":"text","font":"Noto Sans","fontWeight":"bold","fontSize":33},"encoding":{"x":{"field":"x","type":"quantitative","scale":{"domain":[-10,10]}},"y":{"field":"y","type":"quantitative","scale":{"domain":[-1.55,1.512]}},"text":{"field":"t"}}}
]},
{"width":11,"height":262,"data":{"name":"bar"},"mark":{"type":"rect","strokeWidth":0.5},"encoding":{"y":{"field":"v","type":"quantitative","scale":{"domain":[-0.021,1.102]},"axis":{"values":[0,0.2,0.4,0.6,0.8,1],"format":".1f","orient":"right","title":null,"domain":false,"tickColor":"#444444","tickSize":8,"offset":-6,"labelFont":"Liberation Sans","labelFontWeight":"normal","labelFontSize":11,"labelColor":"#666666","labelPadding":1}},"y2":{"field":"v2"},"color":{"field":"v","type":"quantitative","legend":null,"scale":{"domain":[0,0.13,0.4,0.66,0.92,1.06],"range":["#00007f","#0000ff","#00ffff","#ffff00","#ff0000","#7f0000"]}}}},
{"width":140,"height":1,"data":{"values":[]},"mark":"rect"},
{"width":423,"height":266,"layer":[
{"data":{"name":"base"},"mark":{"type":"rect","strokeWidth":0.5},"encoding":{"x":{"datum":-10,"type":"quantitative","scale":{"domain":[-10,10]},"axis":{"values":[-10,-5,0,5,10],"labelExpr":"''+datum.value","labelOffset":-4,"title":"x (µm)","domainColor":"#555577","domainWidth":2,"ticks":false,"labelPadding":2,"titlePadding":6}},"x2":{"datum":10},"y":{"field":"y","type":"quantitative","scale":{"domain":[-1.55,1.512]},"axis":{"values":[-1.3,0,1.3],"labelExpr":"''+datum.value","title":"y (um)","domain":false,"ticks":false,"labelPadding":7,"titlePadding":8,"titleY":113}},"y2":{"field":"y2"},"color":{"field":"v","type":"quantitative","legend":null,"scale":{"domain":[0,0.13,0.4,0.66,0.92,1.06],"range":["#00007f","#0000ff","#00ffff","#ffff00","#ff0000","#7f0000"]}},"stroke":{"field":"v","type":"quantitative","legend":null,"scale":{"domain":[0,0.13,0.4,0.66,0.92,1.06],"range":["#00007f","#0000ff","#00ffff","#ffff00","#ff0000","#7f0000"]}}}},
{"data":{"name":"cellsC"},"transform":[{"lookup":"c","from":{"data":{"name":"colsC"},"key":"c","fields":["x","x2"]}},{"lookup":"b","from":{"data":{"name":"bands"},"key":"b","fields":["y","y2"]}}],"mark":"rect","encoding":{"x":{"field":"x","type":"quantitative","scale":{"domain":[-10,10]}},"x2":{"field":"x2"},"y":{"field":"y","type":"quantitative","scale":{"domain":[-1.55,1.512]}},"y2":{"field":"y2"},"color":{"field":"v","type":"quantitative","legend":null,"scale":{"domain":[0,0.13,0.4,0.66,0.92,1.06],"range":["#00007f","#0000ff","#00ffff","#ffff00","#ff0000","#7f0000"]}}}},
{"data":{"name":"arrows"},"mark":{"type":"point","filled":true,"opacity":1,"size":160,"color":"black","clip":false},"encoding":{"x":{"field":"x","type":"quantitative","scale":{"domain":[-10,10]}},"y":{"field":"y","type":"quantitative","scale":{"domain":[-1.55,1.512]}},"shape":{"field":"s","type":"nominal","scale":null}}},
{"data":{"values":[{"x":-14.3,"y":1.69,"t":"(c)"}]},"mark":{"type":"text","font":"Noto Sans","fontWeight":"bold","fontSize":33},"encoding":{"x":{"field":"x","type":"quantitative","scale":{"domain":[-10,10]}},"y":{"field":"y","type":"quantitative","scale":{"domain":[-1.55,1.512]}},"text":{"field":"t"}}}
]},
{"width":11,"height":266,"data":{"name":"bar"},"mark":{"type":"rect","strokeWidth":0.5},"encoding":{"y":{"field":"v","type":"quantitative","scale":{"domain":[-0.017,1.107]},"axis":{"values":[0,0.2,0.4,0.6,0.8,1],"format":".1f","orient":"right","title":null,"domain":false,"tickColor":"#444444","tickSize":8,"offset":-6,"labelFont":"Liberation Sans","labelFontWeight":"normal","labelFontSize":11,"labelColor":"#666666","labelPadding":1}},"y2":{"field":"v2"},"color":{"field":"v","type":"quantitative","legend":null,"scale":{"domain":[0,0.13,0.4,0.66,0.92,1.06],"range":["#00007f","#0000ff","#00ffff","#ffff00","#ff0000","#7f0000"]}}}}
]},
{"bounds":"flush","spacing":10,"hconcat":[
{"width":424,"height":264,"layer":[
{"data":{"name":"baseD"},"mark":{"type":"rect","strokeWidth":0.5},"encoding":{"x":{"datum":-10,"type":"quantitative","scale":{"domain":[-10,10]},"axis":{"values":[-10,-5,0,5,10],"labelExpr":"''+datum.value","labelOffset":-4,"title":"x (µm)","domainColor":"#555577","domainWidth":2,"ticks":false,"labelPadding":2,"titlePadding":6}},"x2":{"datum":10},"y":{"field":"y","type":"quantitative","scale":{"domain":[-1.55,1.5]},"axis":{"values":[-1.3,0,1.3],"labelExpr":"''+datum.value","title":"y (um)","domain":false,"ticks":false,"labelPadding":7,"titlePadding":8,"titleY":115}},"y2":{"field":"y2"},"color":{"field":"v","type":"quantitative","legend":null,"scale":{"domain":[0,0.13,0.4,0.66,0.92,1.06],"range":["#00007f","#0000ff","#00ffff","#ffff00","#ff0000","#7f0000"]}},"stroke":{"field":"v","type":"quantitative","legend":null,"scale":{"domain":[0,0.13,0.4,0.66,0.92,1.06],"range":["#00007f","#0000ff","#00ffff","#ffff00","#ff0000","#7f0000"]}}}},
{"data":{"name":"cellsD"},"transform":[{"lookup":"c","from":{"data":{"name":"colsD"},"key":"c","fields":["x","x2"]}},{"lookup":"b","from":{"data":{"name":"bands"},"key":"b","fields":["y","y2"]}}],"mark":"rect","encoding":{"x":{"field":"x","type":"quantitative","scale":{"domain":[-10,10]}},"x2":{"field":"x2"},"y":{"field":"y","type":"quantitative","scale":{"domain":[-1.55,1.5]}},"y2":{"field":"y2"},"color":{"field":"v","type":"quantitative","legend":null,"scale":{"domain":[0,0.13,0.4,0.66,0.92,1.06],"range":["#00007f","#0000ff","#00ffff","#ffff00","#ff0000","#7f0000"]}}}},
{"data":{"name":"arrows"},"mark":{"type":"point","filled":true,"opacity":1,"size":160,"color":"black","clip":false},"encoding":{"x":{"field":"x","type":"quantitative","scale":{"domain":[-10,10]}},"y":{"field":"y","type":"quantitative","scale":{"domain":[-1.55,1.5]}},"shape":{"field":"s","type":"nominal","scale":null}}},
{"data":{"values":[{"x":-14.3,"y":1.69,"t":"(d)"}]},"mark":{"type":"text","font":"Noto Sans","fontWeight":"bold","fontSize":33},"encoding":{"x":{"field":"x","type":"quantitative","scale":{"domain":[-10,10]}},"y":{"field":"y","type":"quantitative","scale":{"domain":[-1.55,1.5]}},"text":{"field":"t"}}}
]},
{"width":11,"height":264,"data":{"name":"bar"},"mark":{"type":"rect","strokeWidth":0.5},"encoding":{"y":{"field":"v","type":"quantitative","scale":{"domain":[-0.017,1.102]},"axis":{"values":[0,0.2,0.4,0.6,0.8,1],"format":".1f","orient":"right","title":null,"domain":false,"tickColor":"#444444","tickSize":8,"offset":-6,"labelFont":"Liberation Sans","labelFontWeight":"normal","labelFontSize":11,"labelColor":"#666666","labelPadding":1}},"y2":{"field":"v2"},"color":{"field":"v","type":"quantitative","legend":null,"scale":{"domain":[0,0.13,0.4,0.66,0.92,1.06],"range":["#00007f","#0000ff","#00ffff","#ffff00","#ff0000","#7f0000"]}}}},
{"width":156,"height":1,"data":{"values":[]},"mark":"rect"},
{"width":422,"height":263,"layer":[
{"data":{"name":"baseE"},"mark":{"type":"rect","strokeWidth":0.5},"encoding":{"x":{"datum":-10,"type":"quantitative","scale":{"domain":[-10,10]},"axis":{"values":[-10,-5,0,5,10],"labelExpr":"''+datum.value","labelOffset":-4,"title":"x (µm)","domainColor":"#555577","domainWidth":2,"ticks":false,"labelPadding":2,"titlePadding":6}},"x2":{"datum":10},"y":{"field":"y","type":"quantitative","scale":{"domain":[-1.55,1.5]},"axis":{"values":[-1.3,0,1.3],"labelExpr":"''+datum.value","title":"y (um)","domain":false,"ticks":false,"labelPadding":7,"titlePadding":8,"titleY":115}},"y2":{"field":"y2"},"color":{"field":"v","type":"quantitative","legend":null,"scale":{"domain":[0,0.13,0.4,0.66,0.92,1.06],"range":["#00007f","#0000ff","#00ffff","#ffff00","#ff0000","#7f0000"]}},"stroke":{"field":"v","type":"quantitative","legend":null,"scale":{"domain":[0,0.13,0.4,0.66,0.92,1.06],"range":["#00007f","#0000ff","#00ffff","#ffff00","#ff0000","#7f0000"]}}}},
{"data":{"name":"cellsE"},"transform":[{"lookup":"c","from":{"data":{"name":"colsE"},"key":"c","fields":["x","x2"]}},{"lookup":"b","from":{"data":{"name":"bands"},"key":"b","fields":["y","y2"]}}],"mark":"rect","encoding":{"x":{"field":"x","type":"quantitative","scale":{"domain":[-10,10]}},"x2":{"field":"x2"},"y":{"field":"y","type":"quantitative","scale":{"domain":[-1.55,1.5]}},"y2":{"field":"y2"},"color":{"field":"v","type":"quantitative","legend":null,"scale":{"domain":[0,0.13,0.4,0.66,0.92,1.06],"range":["#00007f","#0000ff","#00ffff","#ffff00","#ff0000","#7f0000"]}}}},
{"data":{"name":"arrows"},"mark":{"type":"point","filled":true,"opacity":1,"size":160,"color":"black","clip":false},"encoding":{"x":{"field":"x","type":"quantitative","scale":{"domain":[-10,10]}},"y":{"field":"y","type":"quantitative","scale":{"domain":[-1.55,1.5]}},"shape":{"field":"s","type":"nominal","scale":null}}},
{"data":{"values":[{"x":-14.35,"y":1.515,"t":"(e)"}]},"mark":{"type":"text","font":"Noto Sans","fontWeight":"bold","fontSize":33},"encoding":{"x":{"field":"x","type":"quantitative","scale":{"domain":[-10,10]}},"y":{"field":"y","type":"quantitative","scale":{"domain":[-1.55,1.5]}},"text":{"field":"t"}}}
]},
{"width":11,"height":264,"data":{"name":"bar"},"mark":{"type":"rect","strokeWidth":0.5},"encoding":{"y":{"field":"v","type":"quantitative","scale":{"domain":[-0.017,1.102]},"axis":{"values":[0,0.2,0.4,0.6,0.8,1],"format":".1f","orient":"right","title":"E-Field Intensity (V/m)","titleAngle":270,"titleFontSize":23,"titlePadding":38,"titleY":134,"domain":false,"tickColor":"#444444","tickSize":8,"offset":-6,"labelFont":"Liberation Sans","labelFontWeight":"normal","labelFontSize":11,"labelColor":"#666666","labelPadding":1}},"y2":{"field":"v2"},"color":{"field":"v","type":"quantitative","legend":null,"scale":{"domain":[0,0.13,0.4,0.66,0.92,1.06],"range":["#00007f","#0000ff","#00ffff","#ffff00","#ff0000","#7f0000"]}}}},
{"width":102,"height":1,"data":{"values":[]},"mark":"rect"},
{"width":534,"height":77,"layer":[
{"data":{"name":"bar"},"mark":{"type":"rect","strokeWidth":0.5},"encoding":{"x":{"field":"v","type":"quantitative","scale":{"domain":[0,1.06]},"axis":{"values":[0,0.1,0.3,0.5,0.7,0.9],"format":".1f","title":null,"domain":false,"ticks":false,"labelPadding":24,"labelFontSize":27}},"x2":{"field":"v2"},"y":{"datum":0,"type":"quantitative","scale":{"domain":[0,2.567]},"axis":null},"y2":{"datum":1},"color":{"field":"v","type":"quantitative","legend":null,"scale":{"domain":[0,0.13,0.4,0.66,0.92,1.06],"range":["#00007f","#0000ff","#00ffff","#ffff00","#ff0000","#7f0000"]}},"stroke":{"field":"v","type":"quantitative","legend":null,"scale":{"domain":[0,0.13,0.4,0.66,0.92,1.06],"range":["#00007f","#0000ff","#00ffff","#ffff00","#ff0000","#7f0000"]}}}},
{"data":{"values":[{"v":0.1},{"v":0.3},{"v":0.5},{"v":0.7},{"v":0.9}]},"mark":{"type":"rule","color":"black","strokeWidth":2,"clip":false},"encoding":{"x":{"field":"v","type":"quantitative","scale":{"domain":[0,1.06]}},"y":{"datum":1,"type":"quantitative","scale":{"domain":[0,2.567]}},"y2":{"datum":-0.33}}},
{"data":{"values":[{"x":0.2236,"y":-2.95,"t":"E-Field Intensity"}]},"mark":{"type":"text","align":"left","font":"Liberation Serif","fontWeight":"bold","fontSize":33,"clip":false},"encoding":{"x":{"field":"x","type":"quantitative","scale":{"domain":[0,1.06]}},"y":{"field":"y","type":"quantitative","scale":{"domain":[0,2.567]}},"text":{"field":"t"}}},
{"data":{"values":[{"x":0.72,"y":-2.95,"t":"(V/m)"}]},"mark":{"type":"text","align":"left","font":"Liberation Serif","fontWeight":"bold","fontStyle":"italic","fontSize":33,"clip":false},"encoding":{"x":{"field":"x","type":"quantitative","scale":{"domain":[0,1.06]}},"y":{"field":"y","type":"quantitative","scale":{"domain":[0,2.567]}},"text":{"field":"t"}}}
]}
]},
{"width":1,"height":10,"data":{"values":[]},"mark":"rect"},
{"bounds":"flush","spacing":10,"hconcat":[
{"width":288,"height":1,"data":{"values":[]},"mark":"rect"},
{"width":519,"height":380,"view":{"stroke":"black","strokeWidth":3.5},"resolve":{"axis":{"x":"independent","y":"independent"}},"layer":[
{"data":{"name":"f"},"mark":{"type":"line","color":"black","strokeWidth":4.5},"encoding":{"x":{"field":"period","type":"quantitative","scale":{"domain":[0,44.9]},"axis":{"values":[0,2.5,5,7.5,10,12.5,15,17.5,20,37.6],"labelExpr":"datum.value%5==0 && datum.value<=20 ? datum.value : ''","title":"Period (µm)","titleFontSize":39,"titlePadding":16,"titleX":255,"domain":false,"tickColor":"black","tickWidth":2.5,"tickSize":{"condition":{"test":"datum.value%5==0 || datum.value>30","value":-8},"value":-4},"labelFont":"Liberation Sans","labelFontSize":27,"labelPadding":15}},"y":{"field":"field","type":"quantitative","scale":{"domain":[0.08,0.12]},"axis":{"values":[0.08,0.09,0.1,0.11,0.12],"labelExpr":"round(datum.value*100)%2==0 ? format(datum.value,'.2f') : ''","title":"Averaged E-Field Intensity (V/m)","titleFontSize":34,"titlePadding":15,"domain":false,"tickColor":"black","tickWidth":2.5,"tickSize":{"condition":{"test":"round(datum.value*100)%2==0","value":-8},"value":-4},"labelFont":"Liberation Sans","labelFontSize":29,"labelPadding":16}}}},
{"data":{"name":"f"},"mark":{"type":"point","shape":"square","filled":true,"opacity":1,"size":170,"color":"black"},"encoding":{"x":{"field":"period","type":"quantitative","scale":{"domain":[0,44.9]},"axis":{"orient":"top","values":[0,2.5,5,7.5,10,12.5,15,17.5,20,37.6],"labels":false,"title":null,"domain":false,"tickColor":"black","tickWidth":2.5,"tickSize":{"condition":{"test":"datum.value%5==0 || datum.value>30","value":-8},"value":-4}}},"y":{"field":"field","type":"quantitative","scale":{"domain":[0.08,0.12]},"axis":{"orient":"right","values":[0.08,0.09,0.1,0.11,0.12],"labels":false,"title":null,"domain":false,"tickColor":"black","tickWidth":2.5,"tickSize":{"condition":{"test":"round(datum.value*100)%2==0","value":-8},"value":-4}}}}},
{"data":{"values":[{"period":37.6,"field":0.117}]},"mark":{"type":"point","shape":"square","filled":true,"opacity":1,"size":170,"color":"black"},"encoding":{"x":{"field":"period","type":"quantitative","scale":{"domain":[0,44.9]},"axis":null},"y":{"field":"field","type":"quantitative","scale":{"domain":[0.08,0.12]},"axis":null}}},
{"data":{"values":[{"x":0.2,"x2":4.1,"y":0.1168}]},"mark":{"type":"rule","color":"black","strokeWidth":4},"encoding":{"x":{"field":"x","type":"quantitative","scale":{"domain":[0,44.9]},"axis":null},"x2":{"field":"x2"},"y":{"field":"y","type":"quantitative","scale":{"domain":[0.08,0.12]},"axis":null}}},
{"data":{"values":[{"x":2.2,"y":0.1168}]},"mark":{"type":"point","shape":"square","filled":true,"opacity":1,"size":120,"color":"black"},"encoding":{"x":{"field":"x","type":"quantitative","scale":{"domain":[0,44.9]},"axis":null},"y":{"field":"y","type":"quantitative","scale":{"domain":[0.08,0.12]},"axis":null}}},
{"data":{"values":[{"x":23.2,"x2":24.3,"y":0.12},{"x":23.2,"x2":24.3,"y":0.08}]},"mark":{"type":"rule","color":"white","strokeWidth":6,"clip":false},"encoding":{"x":{"field":"x","type":"quantitative","scale":{"domain":[0,44.9]},"axis":null},"x2":{"field":"x2"},"y":{"field":"y","type":"quantitative","scale":{"domain":[0.08,0.12]},"axis":null}}},
{"data":{"values":[{"x":23.75,"y":0.12},{"x":23.75,"y":0.08}]},"mark":{"type":"text","text":"//","font":"Liberation Sans","fontWeight":"bold","fontStyle":"italic","fontSize":28,"clip":false},"encoding":{"x":{"field":"x","type":"quantitative","scale":{"domain":[0,44.9]},"axis":null},"y":{"field":"y","type":"quantitative","scale":{"domain":[0.08,0.12]},"axis":null}}},
{"data":{"values":[{"x":4.5,"y":0.1168,"t":"Averaged E-Field Intensity"}]},"mark":{"type":"text","align":"left","font":"Liberation Sans","fontWeight":"bold","fontSize":25},"encoding":{"x":{"field":"x","type":"quantitative","scale":{"domain":[0,44.9]},"axis":null},"y":{"field":"y","type":"quantitative","scale":{"domain":[0.08,0.12]},"axis":null},"text":{"field":"t"}}},
{"data":{"values":[{"x":40.1,"y":0.076,"t":"No Electrode"}]},"mark":{"type":"text","font":"Liberation Serif","fontWeight":"bold","fontSize":32,"clip":false},"encoding":{"x":{"field":"x","type":"quantitative","scale":{"domain":[0,44.9]},"axis":null},"y":{"field":"y","type":"quantitative","scale":{"domain":[0.08,0.12]},"axis":null},"text":{"field":"t"}}},
{"data":{"values":[{"x":-12.37,"y":0.1275,"t":"(f)"}]},"mark":{"type":"text","font":"Noto Sans","fontWeight":"bold","fontSize":33,"clip":false},"encoding":{"x":{"field":"x","type":"quantitative","scale":{"domain":[0,44.9]},"axis":null},"y":{"field":"y","type":"quantitative","scale":{"domain":[0.08,0.12]},"axis":null},"text":{"field":"t"}}}
]},
{"width":203,"height":1,"data":{"values":[]},"mark":"rect"},
{"width":558,"height":381,"resolve":{"axis":{"x":"independent","y":"independent"}},"layer":[
{"data":{"values":[{"x":0,"x2":22.5,"y":50,"y2":100}]},"mark":{"type":"rect","fill":null,"stroke":"black","strokeWidth":3.5},"encoding":{"x":{"field":"x","type":"quantitative","scale":{"domain":[0,22.5]},"axis":{"values":[0,2.5,5,7.5,10,12.5,15,17.5,20,22.5],"labelExpr":"datum.value%5==0 ? datum.value : ''","title":"Period (µm)","titleFontSize":42,"titlePadding":11,"domain":false,"tickColor":"black","tickWidth":2.5,"tickSize":{"condition":{"test":"datum.value%5==0","value":-8},"value":-4},"labelFont":"Liberation Sans","labelFontSize":31,"labelPadding":16}},"x2":{"field":"x2"},"y":{"field":"y","type":"quantitative","scale":{"domain":[50,100.8]},"axis":{"values":[50,55,60,65,70,75,80,85,90,95,100],"labelExpr":"datum.value%10==0 ? datum.value : ''","title":"Ratio (%)","titleFontSize":40,"titlePadding":0,"domain":false,"tickColor":"black","tickWidth":2.5,"tickSize":{"condition":{"test":"datum.value%10==0","value":-8},"value":-4},"labelFont":"Liberation Sans","labelFontSize":31,"labelPadding":17}},"y2":{"field":"y2"}}},
{"data":{"name":"g"},"mark":{"type":"line","strokeWidth":4.5},"encoding":{"x":{"field":"period","type":"quantitative","scale":{"domain":[0,22.5]},"axis":{"orient":"top","offset":-6,"values":[0,2.5,5,7.5,10,12.5,15,17.5,20,22.5],"labels":false,"title":null,"domain":false,"tickColor":"black","tickWidth":2.5,"tickSize":{"condition":{"test":"datum.value%5==0","value":-8},"value":-4}}},"y":{"field":"ratio","type":"quantitative","scale":{"domain":[50,100.8]},"axis":{"orient":"right","values":[50,55,60,65,70,75,80,85,90,95,100],"labels":false,"title":null,"domain":false,"tickColor":"black","tickWidth":2.5,"tickSize":{"condition":{"test":"datum.value%10==0","value":-8},"value":-4}}},"color":{"field":"series","type":"nominal","legend":null,"scale":{"domain":["Aperture Ratio","E-Field Ratio"],"range":["black","#ff0000"]}}}},
{"data":{"name":"g"},"mark":{"type":"point","shape":"square","filled":true,"opacity":1,"size":170},"encoding":{"x":{"field":"period","type":"quantitative","scale":{"domain":[0,22.5]},"axis":null},"y":{"field":"ratio","type":"quantitative","scale":{"domain":[50,100.8]},"axis":null},"color":{"field":"series","type":"nominal","legend":null}}},
{"data":{"values":[{"x":13.3,"x2":15.3,"y":56.3,"series":"Aperture Ratio"},{"x":13.3,"x2":15.3,"y":53.1,"series":"E-Field Ratio"}]},"mark":{"type":"rule","strokeWidth":4},"encoding":{"x":{"field":"x","type":"quantitative","scale":{"domain":[0,22.5]},"axis":null},"x2":{"field":"x2"},"y":{"field":"y","type":"quantitative","scale":{"domain":[50,100.8]},"axis":null},"color":{"field":"series","type":"nominal","legend":null}}},
{"data":{"values":[{"x":14.3,"y":56.3,"series":"Aperture Ratio"},{"x":14.3,"y":53.1,"series":"E-Field Ratio"}]},"mark":{"type":"point","shape":"square","filled":true,"opacity":1,"size":120},"encoding":{"x":{"field":"x","type":"quantitative","scale":{"domain":[0,22.5]},"axis":null},"y":{"field":"y","type":"quantitative","scale":{"domain":[50,100.8]},"axis":null},"color":{"field":"series","type":"nominal","legend":null}}},
{"data":{"values":[{"x":15.4,"y":56.3,"t":"Aperture Ratio"},{"x":15.4,"y":53.1,"t":"E-Field Ratio"}]},"mark":{"type":"text","align":"left","font":"Liberation Sans","fontWeight":"bold","fontSize":20},"encoding":{"x":{"field":"x","type":"quantitative","scale":{"domain":[0,22.5]},"axis":null},"y":{"field":"y","type":"quantitative","scale":{"domain":[50,100.8]},"axis":null},"text":{"field":"t"}}},
{"data":{"values":[{"x":-4.88,"y":110.3,"t":"(g)"}]},"mark":{"type":"text","font":"Noto Sans","fontWeight":"bold","fontSize":33,"clip":false},"encoding":{"x":{"field":"x","type":"quantitative","scale":{"domain":[0,22.5]},"axis":null},"y":{"field":"y","type":"quantitative","scale":{"domain":[50,100.8]},"axis":null},"text":{"field":"t"}}}
]}
]}
]}
